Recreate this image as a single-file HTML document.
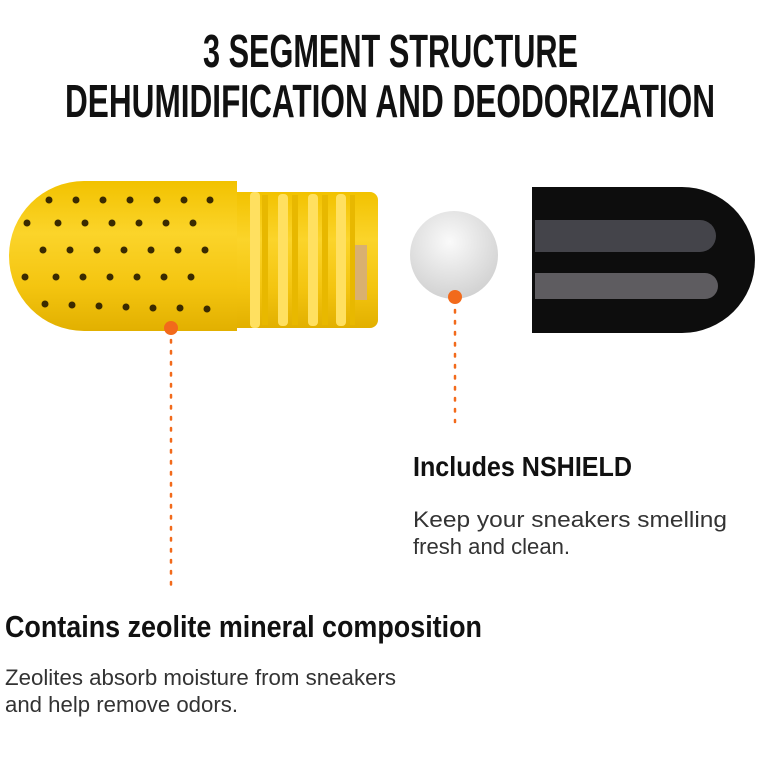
<!DOCTYPE html>
<html><head><meta charset="utf-8"><style>
html,body{margin:0;padding:0;background:#fff;width:780px;height:780px;overflow:hidden}
svg{display:block}
.t{font-family:"Liberation Sans",sans-serif;font-weight:bold;fill:#111}
.b{font-family:"Liberation Sans",sans-serif;fill:#333;font-size:22.5px}
</style></head><body>
<svg width="780" height="780" viewBox="0 0 780 780" xmlns="http://www.w3.org/2000/svg">
<defs>
<linearGradient id="yg" x1="0" y1="0" x2="0" y2="1">
<stop offset="0" stop-color="#f2c200"/><stop offset="0.35" stop-color="#fbd42a"/><stop offset="0.7" stop-color="#f4c510"/><stop offset="1" stop-color="#e2b000"/>
</linearGradient>
<radialGradient id="ball" cx="0.45" cy="0.35" r="0.7">
<stop offset="0" stop-color="#fafafa"/><stop offset="1" stop-color="#cfcfcf"/>
</radialGradient>
</defs>
<text class="t" x="203" y="67" font-size="46" textLength="375" lengthAdjust="spacingAndGlyphs">3 SEGMENT STRUCTURE</text>
<text class="t" x="65" y="117" font-size="46" textLength="650" lengthAdjust="spacingAndGlyphs">DEHUMIDIFICATION AND DEODORIZATION</text>

<rect x="228" y="192" width="150" height="136" rx="8" fill="url(#yg)"/>
<g fill="#e8b800">
<rect x="262" y="195" width="6" height="130"/><rect x="292" y="195" width="6" height="130"/><rect x="322" y="195" width="6" height="130"/><rect x="350" y="195" width="5" height="130"/>
</g>
<g fill="#ffe060">
<rect x="250" y="192" width="10" height="136" rx="4"/><rect x="278" y="194" width="10" height="132" rx="4"/><rect x="308" y="194" width="10" height="132" rx="4"/><rect x="336" y="194" width="10" height="132" rx="4"/>
</g>
<rect x="355" y="245" width="12" height="55" fill="#d9b070"/>
<path d="M237 181 L84 181 A75 75 0 0 0 84 331 L237 331 Z" fill="url(#yg)"/>
<g fill="#3a2a00">
<circle cx="49" cy="200" r="3.5"/><circle cx="76" cy="200" r="3.5"/><circle cx="103" cy="200" r="3.5"/><circle cx="130" cy="200" r="3.5"/><circle cx="157" cy="200" r="3.5"/><circle cx="184" cy="200" r="3.5"/><circle cx="210" cy="200" r="3.5"/>
<circle cx="27" cy="223" r="3.5"/><circle cx="58" cy="223" r="3.5"/><circle cx="85" cy="223" r="3.5"/><circle cx="112" cy="223" r="3.5"/><circle cx="139" cy="223" r="3.5"/><circle cx="166" cy="223" r="3.5"/><circle cx="193" cy="223" r="3.5"/>
<circle cx="43" cy="250" r="3.5"/><circle cx="70" cy="250" r="3.5"/><circle cx="97" cy="250" r="3.5"/><circle cx="124" cy="250" r="3.5"/><circle cx="151" cy="250" r="3.5"/><circle cx="178" cy="250" r="3.5"/><circle cx="205" cy="250" r="3.5"/>
<circle cx="25" cy="277" r="3.5"/><circle cx="56" cy="277" r="3.5"/><circle cx="83" cy="277" r="3.5"/><circle cx="110" cy="277" r="3.5"/><circle cx="137" cy="277" r="3.5"/><circle cx="164" cy="277" r="3.5"/><circle cx="191" cy="277" r="3.5"/>
<circle cx="45" cy="304" r="3.5"/><circle cx="72" cy="305" r="3.5"/><circle cx="99" cy="306" r="3.5"/><circle cx="126" cy="307" r="3.5"/><circle cx="153" cy="308" r="3.5"/><circle cx="180" cy="308" r="3.5"/><circle cx="207" cy="309" r="3.5"/>
</g>
<circle cx="454" cy="255" r="44" fill="url(#ball)"/>
<path d="M532 187 L682 187 A73 73 0 0 1 682 333 L532 333 Z" fill="#0d0d0d"/>
<path d="M535 220 L700 220 A16 16 0 0 1 700 252 L535 252 Z" fill="#44444a"/>
<path d="M535 273 L705 273 A13 13 0 0 1 705 299 L535 299 Z" fill="#5e5c60"/>
<circle cx="171" cy="328" r="7" fill="#f26a1b"/>
<line x1="171" y1="340" x2="171" y2="592" stroke="#f26a1b" stroke-width="2.5" stroke-dasharray="2.5 8.5" stroke-linecap="round"/>
<circle cx="455" cy="297" r="7" fill="#f26a1b"/>
<line x1="455" y1="310" x2="455" y2="422" stroke="#f26a1b" stroke-width="2.5" stroke-dasharray="2.5 8.5" stroke-linecap="round"/>
<text class="t" x="413" y="476" font-size="28" textLength="219" lengthAdjust="spacingAndGlyphs">Includes NSHIELD</text>
<text class="b" x="413" y="527" textLength="314" lengthAdjust="spacingAndGlyphs">Keep your sneakers smelling</text>
<text class="b" x="413" y="554" textLength="157" lengthAdjust="spacingAndGlyphs">fresh and clean.</text>
<text class="t" x="5" y="637" font-size="31" textLength="477" lengthAdjust="spacingAndGlyphs">Contains zeolite mineral composition</text>
<text class="b" x="5" y="685" textLength="391" lengthAdjust="spacingAndGlyphs">Zeolites absorb moisture from sneakers</text>
<text class="b" x="5" y="712" textLength="233" lengthAdjust="spacingAndGlyphs">and help remove odors.</text>
</svg>
</body></html>
